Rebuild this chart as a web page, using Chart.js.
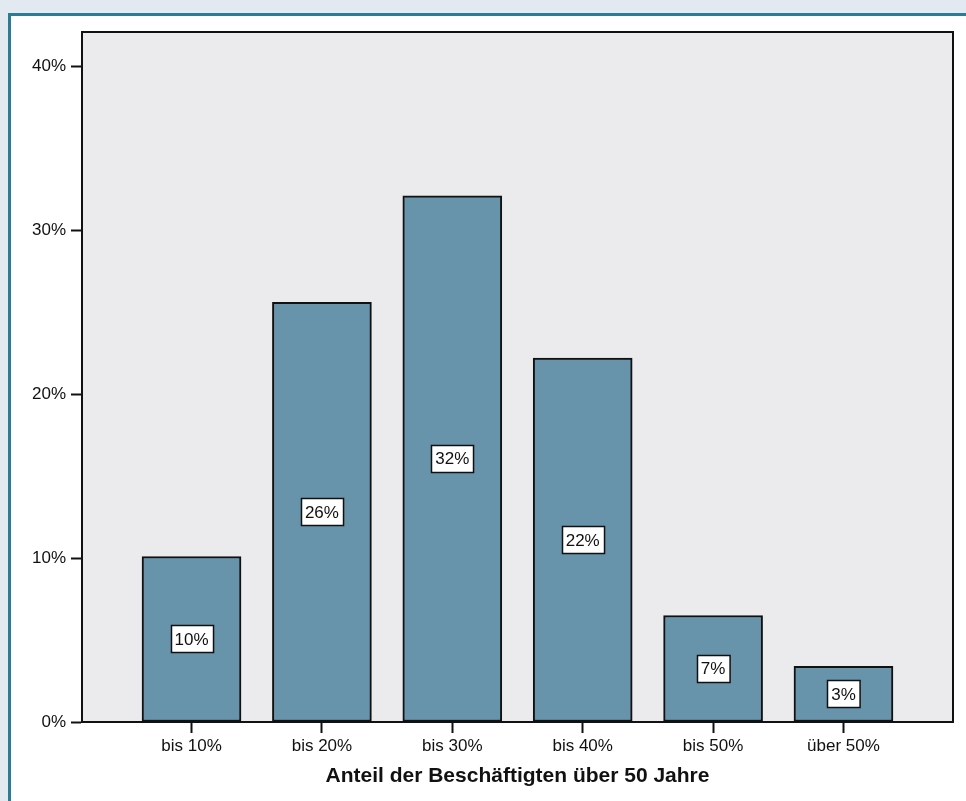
<!DOCTYPE html>
<html>
<head>
<meta charset="utf-8">
<script src="https://cdn.jsdelivr.net/npm/chart.js@4.4.1/dist/chart.umd.min.js"></script>
<style>
  html, body { margin: 0; padding: 0; }
  body { width: 966px; height: 801px; background: #e2e9f0; position: relative; overflow: hidden; }
  .panel { position: absolute; left: 8px; top: 13px; width: 970px; height: 800px; background: #fff;
           border-top: 3px solid #2b7b97; border-left: 3px solid #2b7b97; }
  canvas { position: absolute; left: 0; top: 0; }
</style>
</head>
<body>
<div class="panel"></div>
<canvas id="chart" width="966" height="801"></canvas>
<script>
// categories and shares (in %)
const categories = ['bis 10%', 'bis 20%', 'bis 30%', 'bis 40%', 'bis 50%', 'über 50%'];
const shares = [10.1, 25.6, 32.1, 22.2, 6.5, 3.4];
const yTicks = [0, 10, 20, 30, 40];
const axisTitle = 'Anteil der Beschäftigten über 50 Jahre';

const font = 'Arial, "Liberation Sans", sans-serif';

// light gray plot background with a black frame
const plotFrame = {
    id: 'plotFrame',
    beforeDatasetsDraw(chart) {
        const { ctx, chartArea: a } = chart;
        ctx.save();
        ctx.fillStyle = '#ebebed';
        ctx.fillRect(a.left, a.top, a.right - a.left, a.bottom - a.top);
        ctx.strokeStyle = '#111';
        ctx.lineWidth = 2;
        ctx.strokeRect(a.left, a.top, a.right - a.left, a.bottom - a.top);
        ctx.restore();
    }
};

// boxed value labels in the middle of each bar
const valueBoxes = {
    id: 'valueBoxes',
    afterDatasetsDraw(chart) {
        const { ctx } = chart;
        const meta = chart.getDatasetMeta(0);
        ctx.save();
        ctx.font = '17px ' + font;
        ctx.textAlign = 'center';
        ctx.textBaseline = 'middle';
        meta.data.forEach((bar, i) => {
            const text = Math.round(shares[i]) + '%';
            const w = ctx.measureText(text).width + 8;
            const h = 27;
            const mid = (bar.y + bar.base) / 2;
            const x0 = Math.round(bar.x - w / 2) + 0.5;
            const y0 = Math.round(mid - h / 2) + 0.5;
            ctx.fillStyle = '#fff';
            ctx.fillRect(x0, y0, w, h);
            ctx.strokeStyle = '#111';
            ctx.lineWidth = 1.5;
            ctx.strokeRect(x0, y0, w, h);
            ctx.fillStyle = '#111';
            ctx.fillText(text, bar.x, mid + 1);
        });
        ctx.restore();
    }
};

new Chart(document.getElementById('chart'), {
    type: 'bar',
    data: {
        datasets: [{
            data: shares.map((v, i) => ({ x: i, y: v })),
            backgroundColor: '#6793ab',
            borderColor: '#111',
            borderWidth: 2,
            borderSkipped: false,
            barThickness: 99
        }]
    },
    options: {
        responsive: false,
        animation: false,
        events: [],
        layout: { padding: { left: 0, top: 32, right: 13, bottom: 0 } },
        plugins: { legend: { display: false }, tooltip: { enabled: false } },
        scales: {
            x: {
                type: 'linear',
                offset: false,
                min: -0.84,
                max: 5.84,
                afterFit(scale) { scale.height = 79; },
                afterBuildTicks(scale) {
                    scale.ticks = categories.map((c, i) => ({ value: i }));
                },
                ticks: {
                    autoSkip: false,
                    maxRotation: 0,
                    padding: 3,
                    color: '#111',
                    font: { family: font, size: 17 },
                    callback: (v) => categories[v] ?? ''
                },
                grid: { offset: false, drawOnChartArea: false, drawTicks: true, tickLength: 11, tickColor: '#111', tickWidth: 2 },
                border: { display: true, color: '#111', width: 2 },
                title: {
                    display: true,
                    text: axisTitle,
                    color: '#111',
                    font: { family: font, size: 21, weight: 'bold' },
                    padding: { top: 0, bottom: 12 }
                }
            },
            y: {
                min: 0,
                max: 42.1,
                afterFit(scale) { scale.width = 82; },
                afterBuildTicks(scale) {
                    scale.ticks = yTicks.map(v => ({ value: v }));
                },
                ticks: {
                    padding: 5,
                    color: '#111',
                    font: { family: font, size: 17 },
                    callback: (v) => v + '%'
                },
                grid: { drawOnChartArea: false, drawTicks: true, tickLength: 11, tickColor: '#111', tickWidth: 2 },
                border: { display: true, color: '#111', width: 2 }
            }
        }
    },
    plugins: [plotFrame, valueBoxes]
});
</script>
</body>
</html>
